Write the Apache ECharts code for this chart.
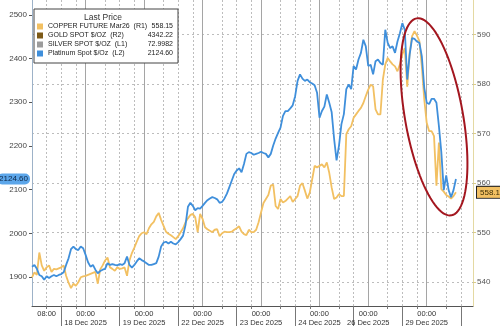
<!DOCTYPE html>
<html><head><meta charset="utf-8">
<script src="https://cdn.jsdelivr.net/npm/echarts@6/dist/echarts.min.js"></script>
<style>html,body{margin:0;padding:0;background:#fff}#c{width:500px;height:327px}</style>
</head><body><div id="c"></div>
<script>
// Trading sessions shown on the time axis: [date label, first hour, last hour]
const sessions = [
  ['17 Dec 2025', 2, 23],
  ['18 Dec 2025', 0, 23],
  ['19 Dec 2025', 0, 23],
  ['22 Dec 2025', 0, 23],
  ['23 Dec 2025', 0, 23],
  ['24 Dec 2025', 0, 19],
  ['26 Dec 2025', 0, 23],
  ['29 Dec 2025', 0, 19]
];
const categories = [];
sessions.forEach(([d, h0, h1]) => { for (let h = h0; h <= h1; h++) categories.push(d + ' ' + String(h).padStart(2, '0') + ':00'); });

const seriesNames = ['COPPER FUTURE Mar26', 'GOLD SPOT $/OZ', 'SILVER SPOT $/OZ', 'Platinum Spot $/Oz'];
const axisTags = ['(R1)', '(R2)', '(L1)', '(L2)'];
const lastPrices = ['558.15', '4342.22', '72.9982', '2124.60'];

const leftTicks = [1900, 2000, 2100, 2200, 2300, 2400, 2500];
const rightTicks = [540, 550, 560, 570, 580, 590];

// Copper future (right axis), hourly
const copper = [
541.0,542.0,541.5,546.0,543.4,542.3,543.0,543.4,542.1,542.7,
542.6,542.8,543.0,543.4,541.3,539.9,538.8,539.7,539.3,540.0,
541.0,541.2,541.3,541.5,541.7,541.9,542.1,539.7,542.6,543.4,
544.4,545.0,543.0,542.7,542.3,543.0,542.7,542.8,543.0,541.3,
544.4,545.9,547.0,548.2,549.3,549.9,550.1,549.7,550.9,551.7,
552.2,553.3,554.0,552.6,551.4,550.2,549.8,549.5,549.1,548.7,
549.3,550.1,550.9,552.1,552.9,553.6,553.8,553.1,550.1,553.8,
552.8,551.1,550.7,550.4,550.1,550.6,550.7,549.3,549.9,550.2,
550.1,550.1,550.2,550.6,550.9,551.3,550.2,549.7,549.5,550.6,
550.1,550.1,550.6,552.1,554.1,556.0,556.8,557.6,559.5,559.7,
555.4,554.8,556.8,556.1,556.4,556.9,557.4,556.2,556.8,557.4,
559.5,560.0,558.5,556.9,558.1,560.8,563.5,563.2,563.5,563.8,
563.2,564.2,562.1,559.1,556.8,557.1,557.8,557.4,557.4,569.9,
570.9,571.5,573.2,573.9,574.6,575.2,576.2,577.6,578.9,579.9,
579.6,574.9,573.9,573.9,580.9,584.0,585.3,584.6,584.0,583.6,
582.6,584.0,586.0,587.3,579.5,586.3,589.7,590.7,589.8,588.7,
583.6,576.9,572.2,570.5,570.5,569.5,559.5,568.2,558.8,558.3,
557.6,557.3,556.9,557.4,558.15
];

// Platinum spot (left axis), hourly
const platinum = [
1924,1928,1919,1905,1902,1894,1902,1898,1902,1905,
1902,1905,1907,1911,1928,1943,1964,1970,1964,1962,
1970,1966,1951,1934,1924,1928,1917,1909,1914,1917,
1919,1932,1928,1930,1928,1927,1930,1928,1932,1947,
1928,1922,1928,1936,1943,1939,1936,1932,1928,1928,
1930,1932,1947,1970,1979,1981,1977,1981,1977,1975,
1980,1987,1995,2019,2061,2070,2063,2053,2058,2057,
2063,2070,2076,2080,2083,2081,2078,2070,2072,2080,
2091,2106,2121,2136,2144,2149,2140,2159,2182,2186,
2184,2180,2182,2184,2187,2184,2182,2174,2182,2201,
2217,2230,2242,2269,2280,2280,2286,2293,2314,2349,
2364,2354,2349,2352,2346,2343,2339,2322,2265,2280,
2290,2318,2299,2277,2216,2167,2201,2250,2273,2330,
2341,2330,2383,2375,2398,2413,2443,2428,2383,2386,
2364,2394,2398,2390,2386,2466,2436,2424,2428,2413,
2439,2458,2481,2466,2352,2409,2447,2445,2439,2436,
2405,2333,2299,2296,2308,2308,2299,2246,2186,2099,
2133,2099,2083,2099,2124.60
];
const gold = [];
const silver = [];

// Annotation ellipse around the late sell-off (centre in data space)
const ellipseCenter = ['29 Dec 2025 03:00', 573.4];
const ellipseAxes = [100, 29]; // semi-axes in px
const ellipseTilt = 10;         // degrees from vertical

const colors = ['#f2c062', '#7d5a17', '#9c9c9c', '#3f8fdb'];
const FONT = "'Liberation Sans', Arial, sans-serif";

const hourOf = i => parseInt(categories[i].slice(-5, -3), 10);
const firstLabel = categories.indexOf('17 Dec 2025 08:00');

const chart = echarts.init(document.getElementById('c'), null, {renderer: 'canvas', width: 500, height: 327});

const option = {
  animation: false,
  backgroundColor: '#fff',
  textStyle: {fontFamily: FONT},
  title: {
    text: 'Last Price', left: 103, top: 13, textAlign: 'center', padding: 0,
    textStyle: {fontSize: 8.5, fontWeight: 'normal', color: '#333', fontFamily: FONT}
  },
  legend: {
    orient: 'vertical', left: 34, top: 9, padding: [13, 5, 5, 3], itemGap: 0,
    itemWidth: 6, itemHeight: 6, icon: 'rect', backgroundColor: '#fff',
    borderColor: '#444', borderWidth: 1, selectedMode: false, data: seriesNames,
    textStyle: {fontFamily: FONT, fontSize: 7, color: '#222', lineHeight: 9,
      rich: {n: {width: 99, fontFamily: FONT, fontSize: 7}, v: {width: 26, align: 'right', fontFamily: FONT, fontSize: 7}}},
    formatter: name => {
      const k = seriesNames.indexOf(name);
      return '{n|' + name + '  ' + axisTags[k] + '}{v|' + lastPrices[k] + '}';
    }
  },
  grid: {left: 32, right: 27, top: 0, bottom: 19},
  xAxis: [{
    type: 'category', data: categories, boundaryGap: false, position: 'bottom',
    axisLine: {onZero: false, lineStyle: {color: '#555', width: 1}},
    axisTick: {interval: i => hourOf(i) === 14, length: 20, lineStyle: {color: '#777'}},
    axisLabel: {
      interval: i => hourOf(i) === 0 || i === firstLabel,
      formatter: (v, i) => hourOf(i) === 0 ? '00:00\n' + v.slice(0, 11) : v.slice(-5),
      fontSize: 7.5, lineHeight: 9, color: '#333', margin: 3, fontFamily: FONT
    },
    splitLine: {show: true, interval: i => hourOf(i) === 0 && i > 0, lineStyle: {color: '#a5a5a5', width: 1}}
  }, {
    type: 'category', data: categories, boundaryGap: false, position: 'bottom',
    axisLine: {show: false},
    axisTick: {interval: i => hourOf(i) === 8 || hourOf(i) === 20, length: 3, lineStyle: {color: '#777'}},
    axisLabel: {show: false},
    splitLine: {show: true, interval: i => [8, 14, 20].includes(hourOf(i)), lineStyle: {color: '#bdbdbd', type: [2, 2], width: 1}}
  }],
  yAxis: [{
    type: 'value', position: 'left', min: 1834, max: 2534,
    axisLine: {show: true, lineStyle: {color: '#9db2c8'}},
    axisTick: {show: true, customValues: leftTicks, length: 3, lineStyle: {color: '#555'}},
    axisLabel: {customValues: leftTicks, formatter: v => String(v), fontSize: 8, color: '#444', margin: 5, fontFamily: FONT},
    splitLine: {show: false}
  }, {
    type: 'value', position: 'right', min: 535.2, max: 597,
    axisLine: {show: true, lineStyle: {color: '#e4d9a2'}},
    axisTick: {show: true, customValues: rightTicks, length: 3, lineStyle: {color: '#d9cc8a'}},
    axisLabel: {customValues: rightTicks, formatter: v => String(v), fontSize: 8, color: '#555', margin: 4, fontFamily: FONT},
    splitLine: {show: true, lineStyle: {color: '#bdbdbd', type: [2, 3], width: 1}}
  }],
  series: [{
    name: seriesNames[0], type: 'line', xAxisIndex: 0, yAxisIndex: 1, data: copper,
    showSymbol: false, symbol: 'none', z: 2,
    lineStyle: {color: colors[0], width: 1.8}, itemStyle: {color: colors[0]},
    markLine: {
      silent: true, symbol: 'none', lineStyle: {color: 'rgba(0,0,0,0)', width: 0},
      data: [{yAxis: copper[copper.length - 1]}],
      label: {show: true, position: 'end', distance: 4, formatter: p => Number(p.value).toFixed(2),
        color: '#3b2c05', fontSize: 8, fontFamily: FONT, backgroundColor: colors[0],
        borderColor: '#222', borderWidth: 1, padding: [2, 3, 1, 3]}
    }
  }, {
    name: seriesNames[1], type: 'line', xAxisIndex: 0, yAxisIndex: 1, data: gold,
    showSymbol: false, lineStyle: {color: colors[1]}, itemStyle: {color: colors[1]}
  }, {
    name: seriesNames[2], type: 'line', xAxisIndex: 0, yAxisIndex: 0, data: silver,
    showSymbol: false, lineStyle: {color: colors[2]}, itemStyle: {color: colors[2]}
  }, {
    name: seriesNames[3], type: 'line', xAxisIndex: 0, yAxisIndex: 0, data: platinum,
    showSymbol: false, symbol: 'none', z: 3,
    lineStyle: {color: colors[3], width: 1.8}, itemStyle: {color: colors[3]},
    markLine: {
      silent: true, symbol: 'none', lineStyle: {color: 'rgba(0,0,0,0)', width: 0},
      data: [{yAxis: platinum[platinum.length - 1]}],
      label: {show: true, position: 'start', distance: 2, formatter: p => Number(p.value).toFixed(2),
        color: '#0b2545', fontSize: 8, fontFamily: FONT, backgroundColor: '#5ca6ea',
        borderRadius: 5, padding: [2, 2, 1, 2]}
    }
  }]
};
chart.setOption(option);

// Ellipse annotation
const c = chart.convertToPixel({seriesIndex: 0}, ellipseCenter);
const ang = ellipseTilt * Math.PI / 180;
const ux = Math.sin(ang), uy = Math.cos(ang), vx = Math.cos(ang), vy = -Math.sin(ang);
const pts = [];
for (let k = 0; k < 96; k++) {
  const t = k / 96 * Math.PI * 2;
  const a = ellipseAxes[0] * Math.cos(t), b = ellipseAxes[1] * Math.sin(t);
  pts.push([c[0] + a * ux + b * vx, c[1] + a * uy + b * vy]);
}
chart.setOption({graphic: [{type: 'polygon', silent: true, z: 20,
  shape: {points: pts}, style: {fill: 'none', stroke: '#a3161f', lineWidth: 2}}]});
</script>
</body></html>
